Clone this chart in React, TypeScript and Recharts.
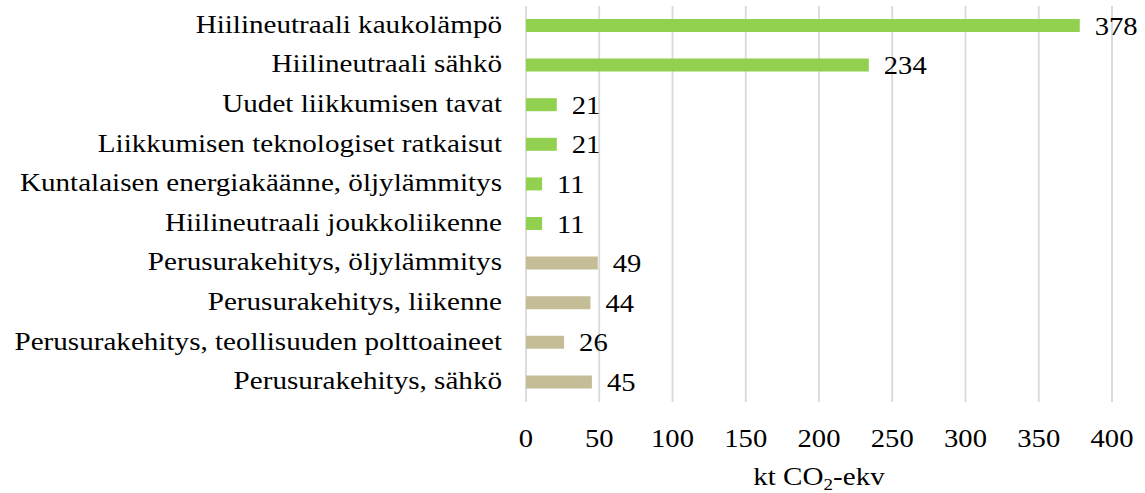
import React from "react";
import { BarChart, Bar, XAxis, YAxis, CartesianGrid, LabelList, Cell } from "recharts";

const categories = [
  "Hiilineutraali kaukolämpö",
  "Hiilineutraali sähkö",
  "Uudet liikkumisen tavat",
  "Liikkumisen teknologiset ratkaisut",
  "Kuntalaisen energiakäänne, öljylämmitys",
  "Hiilineutraali joukkoliikenne",
  "Perusurakehitys, öljylämmitys",
  "Perusurakehitys, liikenne",
  "Perusurakehitys, teollisuuden polttoaineet",
  "Perusurakehitys, sähkö",
];
const values = [378, 234, 21, 21, 11, 11, 49, 44, 26, 45];
const groups = ["a", "a", "a", "a", "a", "a", "b", "b", "b", "b"];
const xTicks = [0, 50, 100, 150, 200, 250, 300, 350, 400];
const groupColors: Record<string, string> = { a: "#92D050", b: "#C4BD97" };

const data = categories.map((c, i) => ({ name: c, value: values[i], group: groups[i] }));

const FONT = "Liberation Serif";
const FS = 26;
const SX = 1.12;
const SXN = 1.1;

const CatTick = (props: any) => {
  const { x, y, payload } = props;
  return (
    <text
      transform={`translate(${x},${y + 7}) scale(${SX},1)`}
      x={0}
      y={0}
      textAnchor="end"
      fontFamily={FONT}
      fontSize={FS}
      fill="#000"
    >
      {payload.value}
    </text>
  );
};

const NumTick = (props: any) => {
  const { x, y, payload } = props;
  return (
    <text
      transform={`translate(${x},${y + 39}) scale(${SXN},1)`}
      x={0}
      y={0}
      textAnchor="middle"
      fontFamily={FONT}
      fontSize={FS}
      fill="#000"
    >
      {payload.value}
    </text>
  );
};

const ValueLabel = (props: any) => {
  const { x, y, width, height, value } = props;
  return (
    <text
      transform={`translate(${x + width + 15},${y + height / 2 + 9}) scale(${SXN},1)`}
      x={0}
      y={0}
      textAnchor="start"
      fontFamily={FONT}
      fontSize={FS}
      fill="#000"
    >
      {value}
    </text>
  );
};

const AxisTitle = (props: any) => {
  const { viewBox } = props;
  const cx = viewBox.x + viewBox.width / 2;
  const by = viewBox.y + 83;
  return (
    <text
      transform={`translate(${cx},${by}) scale(${SX},1)`}
      x={0}
      y={0}
      textAnchor="middle"
      fontFamily={FONT}
      fontSize={FS}
      fill="#000"
    >
      kt CO<tspan fontSize={17} dy={5}>2</tspan><tspan dy={-5}>-ekv</tspan>
    </text>
  );
};

export default function App() {
  return (
    <div style={{ position: "fixed", left: 0, top: 0, width: 1145, height: 493, background: "#fff" }}>
      <BarChart
        width={1145}
        height={493}
        data={data}
        layout="vertical"
        margin={{ top: 6, right: 33, bottom: 31, left: 0 }}
        barCategoryGap={0}
      >
        <CartesianGrid horizontal={false} vertical stroke="#D9D9D9" strokeWidth={1.8} />
        <XAxis
          type="number"
          domain={[0, 400]}
          ticks={xTicks}
          axisLine={false}
          tickLine={false}
          height={60}
          tickMargin={0}
          tick={<NumTick />}
          label={<AxisTitle />}
        />
        <YAxis
          type="category"
          dataKey="name"
          width={526}
          axisLine={false}
          tickLine={false}
          tickMargin={18}
          interval={0}
          tick={<CatTick />}
        />
        <Bar dataKey="value" barSize={13} isAnimationActive={false}>
          {data.map((d, i) => (
            <Cell key={i} fill={groupColors[d.group]} />
          ))}
          <LabelList dataKey="value" content={<ValueLabel />} />
        </Bar>
      </BarChart>
    </div>
  );
}
